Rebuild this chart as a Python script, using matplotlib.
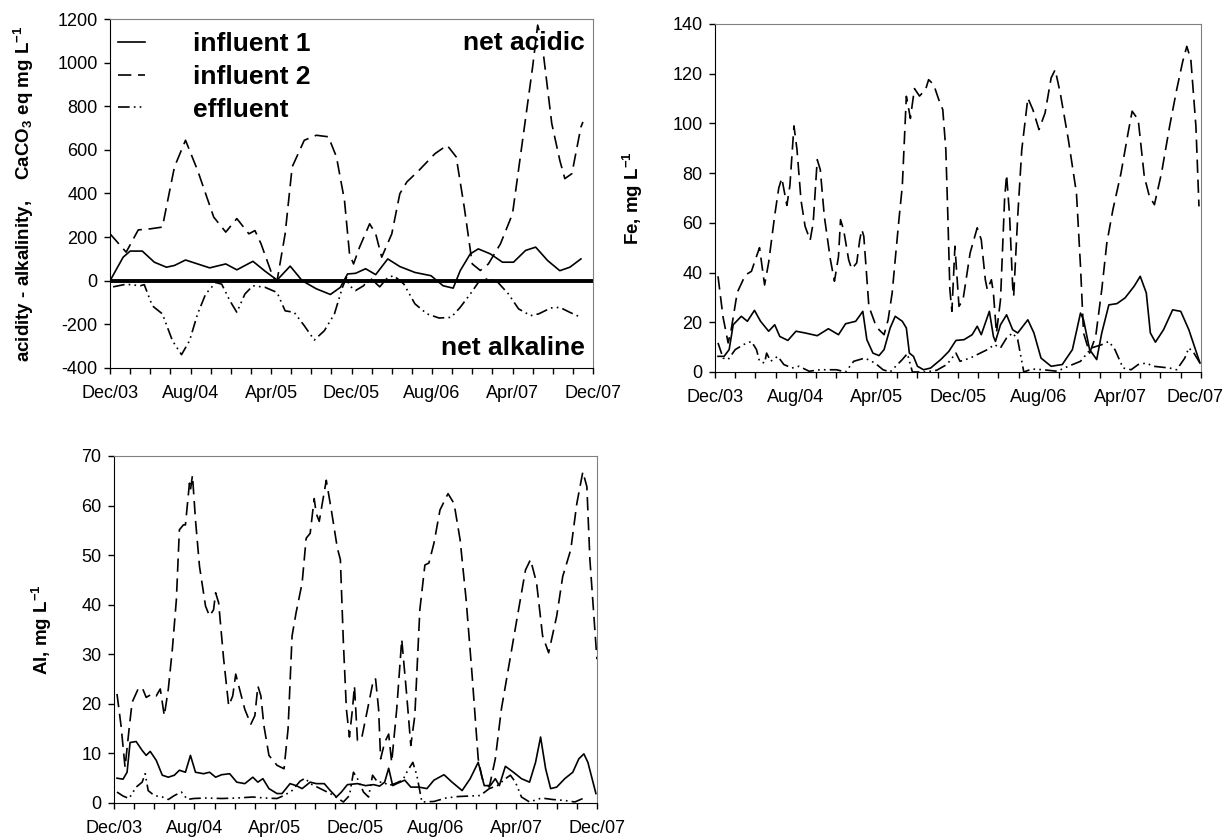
import matplotlib
matplotlib.use("Agg")
import matplotlib.pyplot as plt
import matplotlib.transforms as mtransforms
from matplotlib.lines import Line2D

plt.rcParams['font.family'] = ['Liberation Sans', 'DejaVu Sans']
plt.rcParams['axes.unicode_minus'] = False
plt.rcParams['mathtext.fontset'] = 'custom'
plt.rcParams['mathtext.rm'] = 'Liberation Sans:bold'
plt.rcParams['mathtext.default'] = 'rm'

# x values are months after Dec/03
tick_labels = ['Dec/03', 'Aug/04', 'Apr/05', 'Dec/05', 'Aug/06', 'Apr/07', 'Dec/07']
series_names = ['influent 1', 'influent 2', 'effluent']

# acidity - alkalinity (CaCO3 eq mg/L)
acid_inf1_m = [0, 1.3, 2, 3.2, 4.4, 5.6, 6.4, 7.5, 8.7, 9.9, 11.5, 12.6, 14.2, 15.4, 16.6, 17.9, 19.1,
               20.5, 21.9, 22.9, 23.6, 24.4, 25.4, 26.4, 27.6, 28.8, 30.3, 31.9, 33.1, 34.1, 34.8, 35.8,
               36.6, 37.8, 39, 40.1, 41.3, 42.3, 43.5, 44.7, 45.7, 46.8]
acid_inf1 = [0, 108, 136, 136, 85, 62, 70, 95, 77, 59, 77, 50, 89, 44, 3, 67, 0,
             -37, -63, -30, 31, 34, 55, 28, 100, 65, 38, 23, -23, -34, 46, 123,
             146, 123, 85, 85, 139, 154, 92, 46, 62, 100]
acid_inf2_m = [0, 1.6, 2.8, 4, 5.2, 6.4, 7.5, 8.7, 10.3, 11.5, 12.6, 13.8, 14.4, 15, 16.2, 16.6, 17.4,
               18.1, 19.3, 20.5, 21.7, 22.5, 23.3, 23.8, 24.2, 24.8, 25.8, 26.4, 27, 28, 28.8, 29.5,
               30.7, 32.3, 33.5, 34.4, 35.2, 36, 36.8, 37.6, 38.8, 40, 41, 42, 42.5, 42.9, 43.9, 44.7,
               45.2, 45.9, 46.8, 47]
acid_inf2 = [215, 131, 233, 238, 246, 522, 644, 506, 292, 223, 285, 215, 230, 170, 16, 0, 215,
             522, 644, 667, 660, 568, 368, 123, 77, 154, 261, 215, 108, 215, 399, 453,
             506, 583, 621, 568, 338, 77, 47, 77, 169, 307, 644, 981, 1172, 1104, 721, 552,
             468, 491, 705, 728]
acid_eff_m = [0.3, 1.6, 3, 3.4, 4.2, 5.2, 6.2, 7.1, 7.9, 8.7, 9.5, 10.5, 11.1, 11.9, 12.6, 13.4, 14.2,
              15.4, 16.6, 17.4, 18.3, 19.3, 20.3, 21.3, 22.3, 23.1, 23.5, 23.8, 24.4, 25.2, 25.8, 26.8,
              27.6, 28.2, 29.2, 30.3, 31.5, 32.7, 33.9, 34.8, 35.8, 36.6, 37.4, 38.4, 39.6, 40.6, 41.8,
              42.6, 43.8, 44.7, 45.7, 46.8]
acid_eff = [-28, -16, -23, -18, -115, -152, -275, -339, -275, -152, -61, -8, -16, -91, -145, -61, -23,
            -30, -54, -138, -145, -206, -272, -229, -152, -30, 15, -23, -45, -23, 15, -28,
            15, 23, -15, -106, -152, -171, -168, -122, -61, -8, 8, 0, -61, -129, -160,
            -152, -125, -122, -145, -168]

# Fe, mg/L
fe_inf1_m = [0.3, 0.9, 1.4, 1.8, 2.6, 3.2, 3.9, 4.5, 5.3, 5.9, 6.4, 7.2, 8, 8.9, 10.1, 11.2, 12.2, 12.9,
             13.9, 14.6, 15, 15.6, 16.2, 16.7, 17.3, 17.8, 18.5, 18.9, 19.2, 19.6, 20, 20.6, 21.3, 22.3,
             23.1, 23.8, 24.6, 25.4, 25.9, 26.3, 27.1, 27.5, 27.7, 28.2, 28.8, 29.4, 29.9, 30.9, 31.5,
             32.2, 33.2, 34.3, 35.3, 36.1, 36.4, 37, 37.7, 38.2, 38.9, 39.7, 40.5, 41.4, 42, 42.6, 43,
             43.5, 44.3, 45.2, 46, 46.8, 47.9]
fe_inf1 = [6.3, 6.3, 9, 19, 22.4, 20.4, 24.8, 20.4, 16.4, 19, 14.3, 12.7, 16.4, 15.7, 14.6, 17.4, 15, 19.4,
           20.4, 24.4, 13, 7.6, 6.6, 9, 17.7, 22.4, 20.4, 17.7, 7.6, 6.3, 2.3, 0.9, 1.6, 5,
           8.3, 12.7, 13, 15, 18.4, 15, 24.4, 14.3, 12.3, 19, 23, 17, 15.7, 21, 15.7,
           5.6, 2.3, 3, 9, 23.7, 21, 9, 5, 15.7, 27, 27.5, 29.8, 34.5, 38.5, 31.8, 15.7,
           12, 17, 25, 24.4, 17, 3.6]
fe_inf2_m = [0.3, 0.8, 1.3, 1.6, 2.2, 3, 3.6, 4.1, 4.4, 4.9, 5.3, 5.9, 6.3, 6.6, 7.1, 7.4, 7.8, 8.1, 8.5,
             8.9, 9.4, 9.7, 10.1, 10.4, 10.8, 11.4, 11.8, 12.2, 12.4, 12.7, 13.2, 13.5, 14, 14.3, 14.5,
             14.7, 15.2, 15.8, 16.2, 16.7, 17.1, 17.5, 17.8, 18.2, 18.5, 18.9, 19, 19.3, 19.7, 20.2,
             20.8, 21.1, 21.6, 22.1, 22.5, 22.8, 23, 23.2, 23.4, 23.7, 24.1, 24.5, 25.2, 25.9, 26.3,
             26.7, 26.9, 27.3, 27.5, 27.8, 28.2, 28.6, 28.8, 29.1, 29.4, 29.5, 29.9, 30.3, 30.9, 31.4,
             32, 32.6, 33.2, 33.6, 34.1, 34.9, 35.7, 36.1, 36.4, 37, 37.6, 38.2, 38.7, 39.3, 40.1,
             40.8, 41.2, 41.8, 42.4, 42.9, 43.4, 44.1, 44.9, 45.6, 46.2, 46.6, 47, 47.5, 47.8]
fe_inf2 = [38.5, 22, 11.7, 17, 32, 39, 40.5, 46.5, 50, 35, 44, 63, 74, 78, 67, 75, 99, 89.5, 69,
           58.6, 53, 60, 85.4, 81.4, 62.6, 45.2, 36.5, 46.5, 61.3, 57.3, 45.2, 41.4, 43.9, 53.2, 57.3,
           54.6, 26.4, 19.7, 17, 15, 21, 31.8, 45.2, 62.6, 74.7, 110.9, 108.9, 102, 114, 111,
           113.6, 117.6, 115.6, 109.6, 105.5, 89.4, 62.6, 33.1, 24.4, 50.6, 26.4, 29.1, 47.9, 58, 53.2,
           37.1, 33.1, 37.1, 31.8, 15.7, 29, 69.3, 79.4, 62.6, 34.5, 30.4, 62.6, 89.4, 110.2, 105.5,
           97.5, 104.2, 118.3, 121.6, 112.2, 93.5, 72, 42.5, 15.7, 7.6, 14.3, 33.1, 51.9, 65.3, 80,
           96.2, 104.9, 101.5, 78.7, 70.7, 67.3, 80, 98.8, 113.6, 125, 131, 125.6, 98.8, 66.6]
fe_eff_m = [0.3, 0.8, 1.3, 2, 2.8, 3.6, 4.1, 4.4, 4.9, 5.1, 5.5, 6.2, 6.8, 7.6, 8.3, 9.3, 10.4, 12, 12.9,
            13.7, 14.8, 15.8, 16.6, 17.3, 18.5, 19, 19.5, 20.8, 21.9, 22.9, 23.8, 24.2, 25.2, 26.2,
            26.9, 27.6, 28.2, 28.8, 29.4, 29.9, 30.5, 31.3, 32.4, 33.8, 34.9, 36.1, 37.2, 38.2, 38.9,
            39.5, 40.3, 41.1, 41.8, 42.6, 43.3, 44.9, 45.6, 46.4, 46.8, 47.3, 47.9]
fe_eff = [11.7, 5.6, 5, 9, 11, 12.3, 9, 4.3, 3.6, 7.6, 4.3, 6.3, 3, 1.6, 2.3, 0.3, 0.9, 0.9, 0,
          4.3, 5.6, 3.6, 0.9, 0, 5, 7.4, 0, 0, 0.7, 3, 7.6, 4.3, 5.6, 7.6,
          9, 11, 9.7, 13.7, 15.7, 13, 0, 1.2, 0.9, 0.3, 2.3, 4.3, 9.7, 11, 12.3,
          9, 1.6, 0.9, 3, 3.6, 2.3, 1.6, 0.9, 5.6, 9.7, 7.6, 3.6]

# Al, mg/L
al_inf1_m = [0.3, 0.9, 1.3, 1.6, 2.2, 2.8, 3.2, 3.6, 4.2, 4.8, 5.4, 6, 6.5, 7.1, 7.6, 8.1, 8.9, 9.5, 10.1,
             10.7, 11.5, 12.2, 13, 13.8, 14.3, 14.8, 15.4, 16.2, 16.7, 17.5, 18.1, 18.7, 19.5, 20.1, 20.9,
             21.5, 22.1, 22.6, 23.2, 24.2, 25, 25.8, 26.4, 26.9, 27.3, 27.7, 28.1, 28.9, 29.5, 30.3,
             31.1, 31.8, 32.8, 33.6, 34.6, 35.4, 36.2, 36.8, 37.4, 37.9, 38.3, 38.9, 39.7, 40.5, 41.3,
             41.9, 42.4, 42.9, 43.4, 44, 44.8, 45.6, 46.2, 46.7, 47.1, 47.9]
al_inf1 = [5, 4.8, 6.2, 12.2, 12.4, 10.6, 9.6, 10.4, 8.6, 5.6, 5.2, 5.6, 6.6, 6.2, 9.6, 6.2, 5.9, 6.2, 5.2,
           5.7, 5.9, 4.2, 3.9, 5.2, 4.2, 4.9, 2.9, 1.9, 1.9, 3.9, 3.5, 2.9, 4.2, 3.9, 3.9,
           2.5, 1.2, 2.2, 3.7, 3.9, 3.5, 3.7, 3.4, 4.2, 7, 3.5, 3.9, 4.6, 3.2, 3.2,
           2.9, 4.6, 5.7, 4.2, 2.5, 4.9, 8.2, 3.5, 3.5, 4.9, 3.5, 7.4, 6.2, 4.9, 4.2,
           8.2, 13.3, 6.9, 2.9, 3.2, 4.9, 6.2, 8.9, 9.9, 8.2, 1.9]
al_inf2_m = [0.3, 0.7, 1.1, 1.5, 1.8, 2.4, 2.8, 3.2, 3.8, 4.2, 4.6, 5, 5.4, 5.8, 6.2, 6.5, 6.9, 7.1, 7.5,
             7.6, 7.8, 8.1, 8.5, 9.1, 9.5, 9.9, 10.1, 10.4, 10.9, 11.4, 11.8, 12.1, 12.4, 13, 13.6, 14,
             14.3, 14.6, 14.9, 15.4, 16.2, 16.9, 17.3, 17.7, 18.1, 18.7, 19.1, 19.5, 19.9, 20.1, 20.4,
             20.7, 21.1, 21.6, 22.2, 22.5, 22.8, 23.1, 23.4, 23.7, 23.9, 24.2, 24.6, 25.2, 25.8, 26,
             26.3, 26.5, 26.9, 27.3, 27.6, 28.1, 28.6, 29.1, 29.5, 29.9, 30.4, 30.9, 31.3, 31.8, 32.4,
             33.2, 33.8, 34.4, 35, 35.6, 36.2, 36.6, 37.3, 37.9, 38.5, 39.3, 40.1, 40.9, 41.4, 42,
             42.6, 43.2, 44, 44.6, 45.4, 46, 46.6, 47, 47.3, 48]
al_inf2 = [22, 15.6, 7.2, 14.9, 20.3, 23, 23.3, 21.3, 22, 21.6, 23, 17.6, 23, 31, 41, 55.1, 56.1, 56.1, 64.5,
           63.1, 66.1, 57.1, 47.7, 39.7, 37.7, 39, 42.4, 40.4, 29, 19.6, 21.6, 26, 23.6, 18.9, 15.9, 17.6,
           23.6, 21.6, 15.6, 9.6, 7.6, 6.9, 14.9, 33.7, 38.4, 44.4, 53.4, 54.4, 61.4, 58.4, 56.8,
           60.4, 65.1, 59.1, 51.4, 49.1, 32.3, 18.9, 13.3, 18.9, 23.6, 12.6, 12.9, 18.9, 25, 25,
           18.9, 8.9, 12.2, 13.9, 8.2, 18.9, 33, 21.6, 11.6, 17.6, 39, 48, 48.4, 52.4, 59.1,
           62.4, 60.4, 53.1, 41, 25.6, 8.9, 4.9, 3.2, 8.9, 18.9, 28.3, 37.7, 47, 49.1, 44.4,
           33.7, 30.3, 37.7, 45.7, 51.1, 60.4, 66.8, 63.8, 49.1, 29]
al_eff_m = [0.3, 0.9, 1.5, 2.2, 2.8, 3.1, 3.4, 4, 4.8, 5.4, 6, 6.7, 7.3, 7.9, 9.1, 10.7, 12.2, 13.8, 15,
            16.2, 16.9, 17.7, 18.5, 19, 19.5, 20.5, 21.5, 22.2, 22.8, 23.4, 23.8, 24.2, 24.8, 25.3, 25.7,
            26.2, 26.8, 27.3, 27.9, 28.7, 29.1, 29.7, 30.1, 30.6, 31.8, 33, 34.2, 35.4, 36.4, 37.3,
            38.1, 38.9, 39.4, 39.9, 40.5, 41.3, 42.5, 43.6, 44.8, 45.8, 46.6]
al_eff = [2.2, 1.4, 0.9, 3.2, 4.2, 5.9, 2.5, 1.5, 1.2, 0.7, 1.5, 2.2, 0.7, 0.9, 1, 0.9, 1, 1.2, 1,
          0.9, 1.5, 2.5, 4.4, 5, 3.9, 2.9, 1.9, 1, 0.2, 1.5, 6.2, 4.9, 2.2, 1.2, 5.6,
          4.2, 4.2, 3.5, 3.9, 4.6, 6.2, 8.2, 5.6, 0.2, 0.3, 1, 1.3, 1.4, 1.5, 2.9,
          3.5, 4.9, 5.6, 4.2, 1.2, 0.2, 1, 0.7, 0.5, 0.2, 0.9]

styles = ['-', (0, (8, 4)), (0, (7, 2.5, 1, 2.5, 1, 2.5))]
lw = 1.2

fig = plt.figure(figsize=(12.27, 8.38), dpi=100)
ax1 = fig.add_axes([0.0897, 0.5609, 0.3936, 0.4164])
ax2 = fig.add_axes([0.5827, 0.5561, 0.3961, 0.4153])
ax3 = fig.add_axes([0.0929, 0.0418, 0.3936, 0.4141])


def style_axes(ax, yticks):
    ax.set_xlim(0, 48)
    ax.set_ylim(yticks[0], yticks[-1])
    xt = list(range(0, 49, 2))
    ax.set_xticks(xt)
    ax.set_xticklabels([tick_labels[t // 8] if t % 8 == 0 else '' for t in xt])
    ax.set_yticks(yticks)
    ax.set_yticklabels([str(v) for v in yticks])
    ax.tick_params(axis='x', direction='out', length=4, width=1, pad=8, labelsize=13)
    ax.tick_params(axis='y', direction='out', length=4, width=1, pad=5, labelsize=13)
    for s in ['top', 'right']:
        ax.spines[s].set_color('#808080')
    for s in ['left', 'bottom']:
        ax.spines[s].set_color('black')


# acidity panel
ax1.plot(acid_inf1_m, acid_inf1, color='black', linestyle=styles[0], lw=lw)
ax1.plot(acid_inf2_m, acid_inf2, color='black', linestyle=styles[1], lw=lw)
ax1.plot(acid_eff_m, acid_eff, color='black', linestyle=styles[2], lw=lw)
ax1.axhline(0, color='black', lw=2.8)
style_axes(ax1, list(range(-400, 1201, 200)))
ax1.set_ylabel('acidity - alkalinity,    CaCO$_3$ eq mg L$^{-1}$', fontsize=13.5, fontweight='bold')
ax1.yaxis.set_label_coords(-0.153, 0.5)
ax1.text(0.983, 0.931, 'net acidic', transform=ax1.transAxes, ha='right', va='center',
         fontsize=19, fontweight='bold')
ax1.text(0.983, 0.057, 'net alkaline', transform=ax1.transAxes, ha='right', va='center',
         fontsize=19, fontweight='bold')
handles = [Line2D([], [], color='black', linestyle=s, lw=lw) for s in styles]
leg = ax1.legend(handles, series_names, loc='upper left', bbox_to_anchor=(0.01, 0.97),
                 frameon=False, handlelength=1.05, handletextpad=1.8, labelspacing=0.33,
                 borderpad=0.1, borderaxespad=0.0, prop={'size': 19, 'weight': 'bold'})

# Fe panel
ax2.plot(fe_inf1_m, fe_inf1, color='black', linestyle=styles[0], lw=lw)
ax2.plot(fe_inf2_m, fe_inf2, color='black', linestyle=styles[1], lw=lw)
ax2.plot(fe_eff_m, fe_eff, color='black', linestyle=styles[2], lw=lw)
style_axes(ax2, list(range(0, 141, 20)))
ax2.set_ylabel('Fe, mg L$^{-1}$', fontsize=13.5, fontweight='bold')
ax2.yaxis.set_label_coords(-0.145, 0.5)
# last date label sits at the figure edge, nudge it inside
last = ax2.get_xticklabels()[-1]
last.set_transform(last.get_transform() + mtransforms.ScaledTranslation(-4 / 72, 0, fig.dpi_scale_trans))

# Al panel
ax3.plot(al_inf1_m, al_inf1, color='black', linestyle=styles[0], lw=lw)
ax3.plot(al_inf2_m, al_inf2, color='black', linestyle=styles[1], lw=lw)
ax3.plot(al_eff_m, al_eff, color='black', linestyle=styles[2], lw=lw)
style_axes(ax3, list(range(0, 71, 10)))
ax3.set_ylabel('Al, mg L$^{-1}$', fontsize=13.5, fontweight='bold')
ax3.yaxis.set_label_coords(-0.125, 0.5)

fig.savefig('out.png', dpi=100)
